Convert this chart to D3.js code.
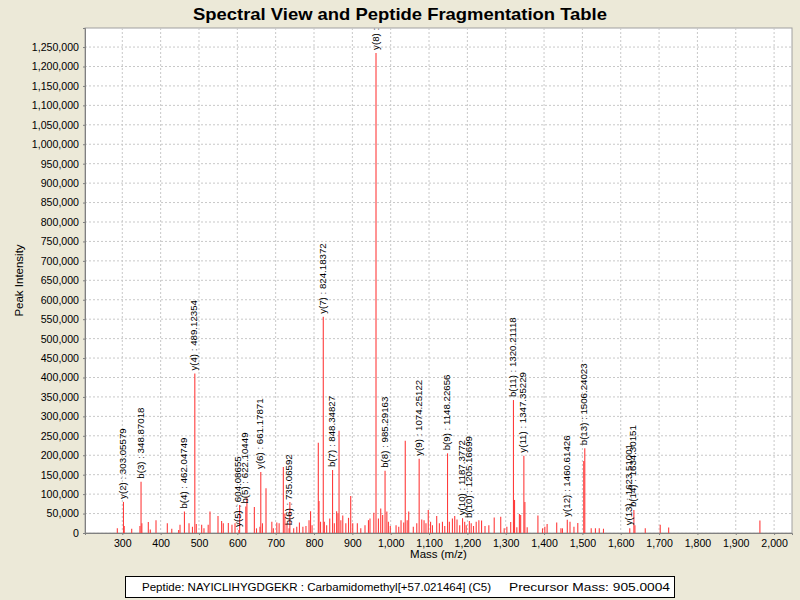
<!DOCTYPE html>
<html><head><meta charset="utf-8">
<script src="https://cdn.jsdelivr.net/npm/d3@7"></script>
<style>
body{margin:0;background:#ECE9D8;}
svg{display:block;}
text{font-family:"Liberation Sans",Arial,sans-serif;}
</style></head>
<body>
<svg id="chart" width="800" height="600"></svg>
<script>
// ---- data ----
const peakMz = [287,305,324.5,346,351,367.8,373,387.9,417.4,429,447,450.5,474,483,493,507,513,524,528.7,549.6,559,563.4,576.5,586,594,606,625,644.4,650,659,665.6,674.8,690,694,703,709,720,724,729.5,737,747,755,762,771,779,787,791,795,811.2,813,817,827,833,841,853,859,862.5,865.3,870,875,883,890,895.7,901,913,922,933,942,946,956,968,974,979,990,994,999,1014,1021,1027,1034,1038,1043,1047,1059,1068,1081,1087,1092,1098,1104,1109,1120,1127,1135,1141,1153,1161,1167,1173,1180,1193,1197,1210,1216,1223,1230,1237,1246,1256,1270,1287,1296,1303,1313,1323,1329,1335.7,1339,1350,1356,1384,1396,1402,1408,1433,1444,1448,1467.7,1478,1488,1503.5,1523,1534,1544,1555,1637,1664,1703,1725,1963];
const peakIntensity = [12000,18000,11000,18000,25000,28000,9000,33000,25000,11000,8000,21000,25000,16000,23000,21000,12000,21000,55000,44000,31000,25000,26000,21000,25000,72000,93000,67000,12000,16000,25000,115000,29000,12000,27000,25000,170000,50000,25000,80000,12000,16000,27000,16000,18000,33000,56000,20000,232000,82000,29000,29000,20000,37000,25000,56000,50000,263000,33000,45000,25000,39000,95000,25000,25000,12000,20000,33000,37000,52000,37000,63000,46000,55000,29000,18000,20000,16000,33000,27000,237000,33000,55000,16000,25000,35000,33000,25000,59000,29000,20000,44000,25000,29000,18000,29000,37000,44000,35000,20000,29000,20000,25000,18000,29000,33000,32000,18000,20000,40000,42000,12000,16000,28000,85000,15000,49000,46000,80000,15000,45000,12000,16000,23000,27000,12000,12000,29000,16000,26000,185000,12000,12000,12000,11000,20000,12000,21000,14000,32000];

const annIon = ["y(2)","b(3)","b(4)","y(4)","y(5)","b(5)","y(6)","b(6)","y(7)","b(7)","y(8)","b(8)","y(9)","b(9)","y(10)","b(10)","b(11)","y(11)","y(12)","b(13)","y(13)","b(14)"];
const annMz = [303.05579,348.87018,462.04749,489.12354,604.08655,622.10449,661.17871,735.06592,824.18372,848.34827,961.70312,985.29163,1074.25122,1148.22656,1187.3772,1205.16699,1320.21118,1347.35229,1460.61426,1506.24023,1623.51001,1634.30151];
const annIntensity = [80000,132000,55000,410000,8000,68000,157000,12000,556000,162000,1235000,160000,191000,205000,38000,31000,342000,199000,34000,218000,12000,59000];

const xTicks = d3.range(300, 2001, 100);
const yTicks = d3.range(0, 1250001, 50000);

const titleText = "Spectral View and Peptide Fragmentation Table";
const xLabel = "Mass (m/z)";
const yLabel = "Peak Intensity";
const peptideText = "Peptide: NAYICLIHYGDGEKR : Carbamidomethyl[+57.021464] (C5)";
const precursorText = "Precursor Mass: 905.0004";

// ---- layout ----
const svg = d3.select("#chart");
const L = 85, R = 792, T = 28, B = 533;
const x = d3.scaleLinear().domain([202.7, 2046.7]).range([L, R]);
const y = d3.scaleLinear().domain([0, 1299000]).range([B, T]);

svg.append("text").attr("x", 400).attr("y", 20).attr("text-anchor", "middle")
  .attr("font-size", 17).attr("font-weight", "bold")
  .attr("textLength", 414).attr("lengthAdjust", "spacingAndGlyphs")
  .text(titleText);

svg.append("rect").attr("x", L).attr("y", T).attr("width", R - L).attr("height", B - T)
  .attr("fill", "#fff").attr("stroke", "#a0a0a0").attr("stroke-width", 1);

const defs = svg.append("defs");
defs.append("clipPath").attr("id", "plotclip").append("rect")
  .attr("x", L).attr("y", T).attr("width", R - L).attr("height", B - T);

// grid
const grid = svg.append("g");
grid.selectAll("line.gx").data(xTicks).join("line")
  .attr("x1", d => x(d)).attr("x2", d => x(d)).attr("y1", T).attr("y2", B)
  .attr("stroke", "#c8c8c8").attr("stroke-dasharray", "2,2").attr("stroke-width", 1);
grid.selectAll("line.gy").data(yTicks).join("line")
  .attr("x1", L).attr("x2", R).attr("y1", d => y(d)).attr("y2", d => y(d))
  .attr("stroke", "#c8c8c8").attr("stroke-dasharray", "2,2").attr("stroke-width", 1);

// peaks
const plot = svg.append("g").attr("clip-path", "url(#plotclip)");
const allPeaks = peakMz.map((m, i) => ({m, v: peakIntensity[i]}))
  .concat(annMz.map((m, i) => ({m, v: annIntensity[i]})));
plot.selectAll("line.peak").data(allPeaks).join("line")
  .attr("x1", d => x(d.m)).attr("x2", d => x(d.m))
  .attr("y1", y(0)).attr("y2", d => y(d.v))
  .attr("stroke", "#ff3c3c").attr("stroke-width", 1.1);

// annotations
plot.selectAll("text.ann").data(annMz).join("text")
  .attr("transform", (d, i) => `translate(${x(d) + 2.5},${y(annIntensity[i]) - 3}) rotate(-90)`)
  .attr("font-size", 9.7).attr("fill", "#000")
  .text((d, i) => `${annIon[i]} : ${d}`);

// axes
const fmt = d3.format(",");
const xAxis = svg.append("g").attr("transform", `translate(0,${B})`)
  .call(d3.axisBottom(x).tickValues(xTicks).tickFormat(fmt).tickSize(2).tickPadding(4));
const yAxis = svg.append("g").attr("transform", `translate(${L},0)`)
  .call(d3.axisLeft(y).tickValues(yTicks).tickFormat(fmt).tickSize(2).tickPadding(4));
[xAxis, yAxis].forEach(a => {
  a.select(".domain").attr("stroke", "#808080");
  a.selectAll(".tick line").attr("stroke", "#808080");
  a.selectAll(".tick text").attr("font-size", 10.6).attr("fill", "#000")
    .attr("font-family", "Liberation Sans, Arial, sans-serif");
});

svg.append("text").attr("x", (L + R) / 2).attr("y", 558).attr("text-anchor", "middle")
  .attr("font-size", 11.5).text(xLabel);
svg.append("text").attr("transform", `translate(23,${(T + B) / 2}) rotate(-90)`)
  .attr("text-anchor", "middle").attr("font-size", 11.5).text(yLabel);

// legend
svg.append("rect").attr("x", 125.5).attr("y", 576.5).attr("width", 549).attr("height", 21)
  .attr("fill", "#fff").attr("stroke", "#000");
svg.append("text").attr("x", 142).attr("y", 591).attr("font-size", 11.5)
  .attr("textLength", 349).attr("lengthAdjust", "spacingAndGlyphs").text(peptideText);
svg.append("text").attr("x", 509).attr("y", 591).attr("font-size", 11.5)
  .attr("textLength", 161).attr("lengthAdjust", "spacingAndGlyphs").text(precursorText);
</script>
</body></html>
